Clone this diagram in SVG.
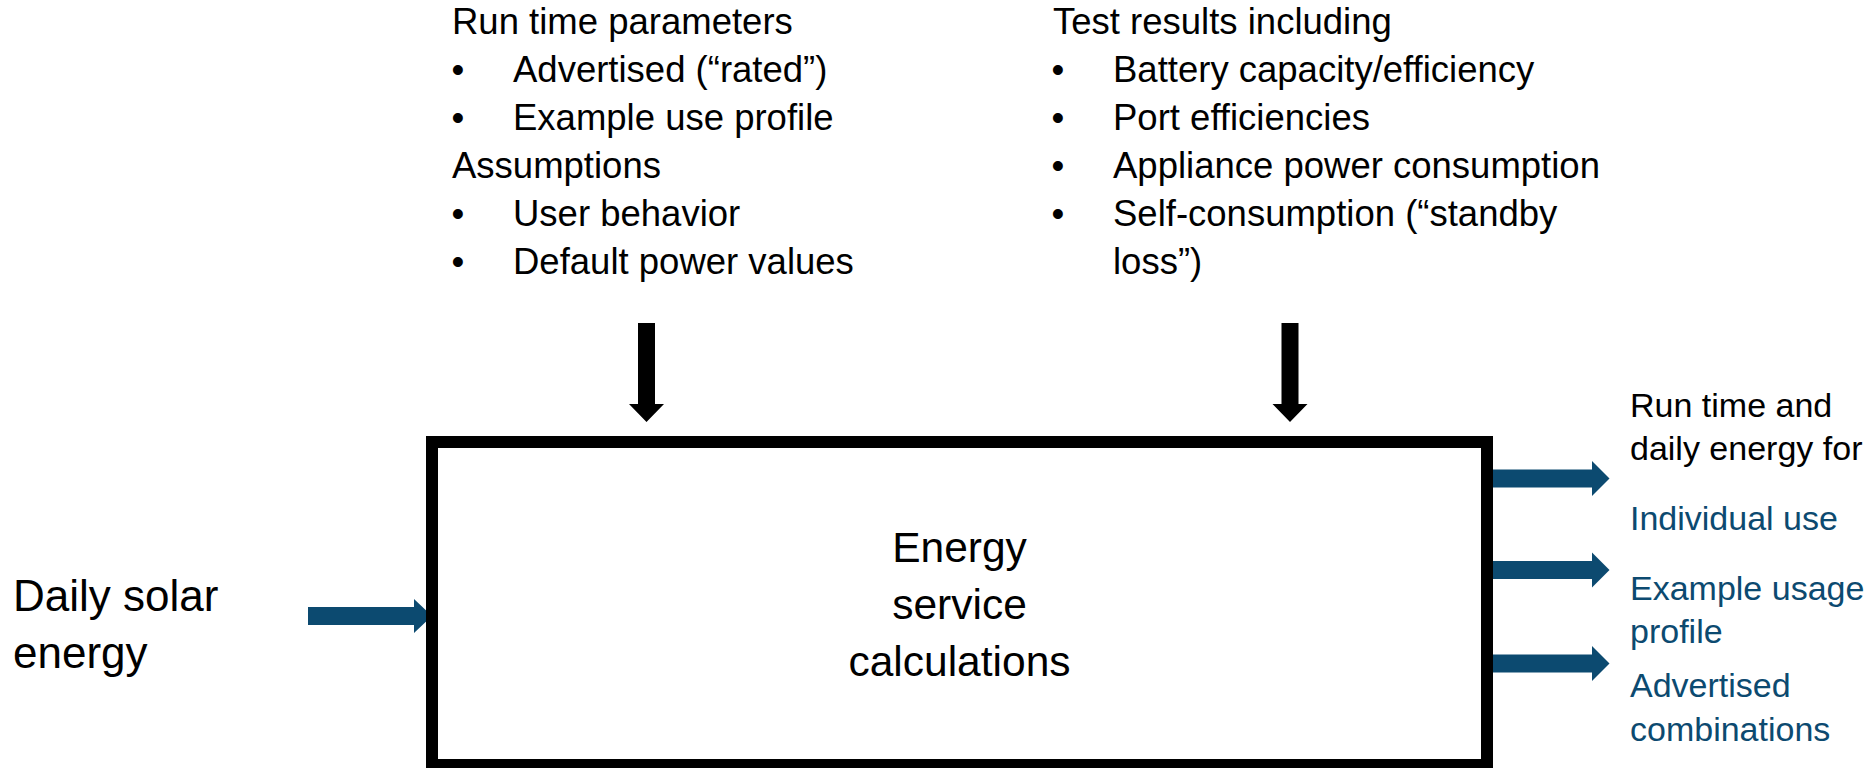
<svg xmlns="http://www.w3.org/2000/svg" width="1870" height="768" viewBox="0 0 1870 768">
  <style>
    text { font-family: "Liberation Sans", Arial, sans-serif; fill: #000000; }
    .top { font-size: 36.5px; }
    .side { font-size: 44px; }
    .core { font-size: 42.5px; text-anchor: middle; }
    .out { font-size: 34px; }
    .blue { fill: #0c4a70; }
    .bul { text-anchor: middle; }
    .arrow-dark { fill: #000000; }
    .arrow-blue { fill: #0c4a70; }
    .frame { fill: #ffffff; stroke: #000000; stroke-width: 12; }
  </style>

  <!-- connectors: block arrows into and out of the calculation box -->
  <g id="connectors">
    <!-- run time parameters / assumptions feed -->
    <polygon class="arrow-dark" points="638,323 655,323 655,404 664,404 646.5,422 629,404 638,404"/>
    <!-- test results feed -->
    <polygon class="arrow-dark" points="1281.5,323 1298.5,323 1298.5,404 1307.5,404 1290,422 1272.5,404 1281.5,404"/>
    <!-- solar energy input -->
    <polygon class="arrow-blue" points="308,607 414,607 414,599 432,616 414,633 414,625 308,625"/>
    <!-- outputs -->
    <polygon class="arrow-blue" points="1486,469.5 1592,469.5 1592,461 1609.5,478.5 1592,496 1592,487.5 1486,487.5"/>
    <polygon class="arrow-blue" points="1486,561 1592,561 1592,552.5 1609.5,570 1592,587.5 1592,579 1486,579"/>
    <polygon class="arrow-blue" points="1486,654.5 1592,654.5 1592,646 1609.5,663.5 1592,681 1592,672.5 1486,672.5"/>
  </g>

  <!-- central calculation block -->
  <g id="energy-service-calculations">
    <rect class="frame" x="432" y="442" width="1055" height="323"/>
    <text class="core" x="959.5" y="562">Energy</text>
    <text class="core" x="959.5" y="619">service</text>
    <text class="core" x="959.5" y="676">calculations</text>
  </g>

  <!-- run time parameters and assumptions -->
  <g id="run-time-parameters" class="top">
    <text x="452" y="34">Run time parameters</text>
    <text class="bul" x="458" y="82">•</text>
    <text x="513" y="82">Advertised (“rated”)</text>
    <text class="bul" x="458" y="130">•</text>
    <text x="513" y="130">Example use profile</text>
    <text x="452" y="178">Assumptions</text>
    <text class="bul" x="458" y="226">•</text>
    <text x="513" y="226">User behavior</text>
    <text class="bul" x="458" y="274">•</text>
    <text x="513" y="274">Default power values</text>
  </g>

  <!-- measured test results -->
  <g id="test-results" class="top">
    <text x="1053" y="34">Test results including</text>
    <text class="bul" x="1058" y="82">•</text>
    <text x="1113" y="82">Battery capacity/efficiency</text>
    <text class="bul" x="1058" y="130">•</text>
    <text x="1113" y="130">Port efficiencies</text>
    <text class="bul" x="1058" y="178">•</text>
    <text x="1113" y="178">Appliance power consumption</text>
    <text class="bul" x="1058" y="226">•</text>
    <text x="1113" y="226">Self-consumption (“standby</text>
    <text x="1113" y="274">loss”)</text>
  </g>

  <!-- solar input label -->
  <g id="daily-solar-energy" class="side">
    <text x="13" y="611">Daily solar</text>
    <text x="13" y="668">energy</text>
  </g>

  <!-- output labels -->
  <g id="outputs" class="out">
    <text x="1630" y="417">Run time and</text>
    <text x="1630" y="460">daily energy for</text>
    <text class="blue" x="1630" y="530">Individual use</text>
    <text class="blue" x="1630" y="600">Example usage</text>
    <text class="blue" x="1630" y="643">profile</text>
    <text class="blue" x="1630" y="697">Advertised</text>
    <text class="blue" x="1630" y="741">combinations</text>
  </g>
</svg>
